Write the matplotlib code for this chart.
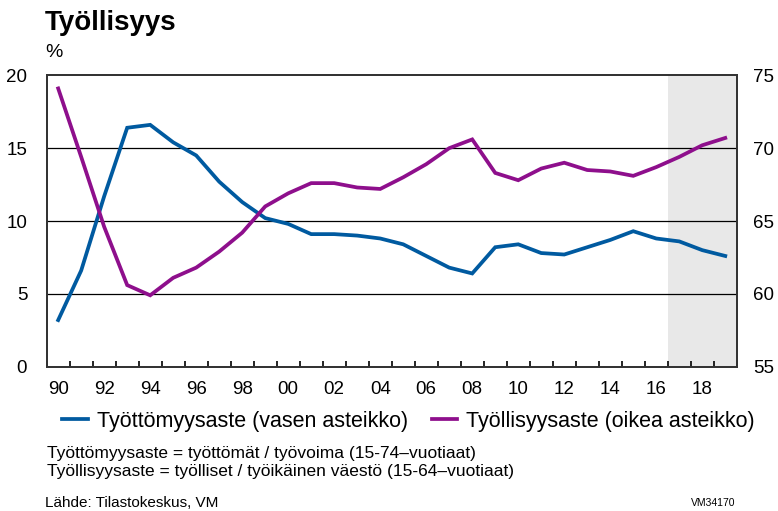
import matplotlib
matplotlib.use("Agg")
import matplotlib.pyplot as plt
from matplotlib.lines import Line2D

# data
years = list(range(1990, 2020))
unemployment = [3.2, 6.6, 11.7, 16.4, 16.6, 15.4, 14.5, 12.7, 11.3, 10.2,
                9.8, 9.1, 9.1, 9.0, 8.8, 8.4, 7.6, 6.8, 6.4, 8.2,
                8.4, 7.8, 7.7, 8.2, 8.7, 9.3, 8.8, 8.6, 8.0, 7.6]
employment = [74.1, 69.4, 64.6, 60.6, 59.9, 61.1, 61.8, 62.9, 64.2, 66.0,
              66.9, 67.6, 67.6, 67.3, 67.2, 68.0, 68.9, 70.0, 70.6, 68.3,
              67.8, 68.6, 69.0, 68.5, 68.4, 68.1, 68.7, 69.4, 70.2, 70.7]
tick_years = list(range(1990, 2020, 2))
tick_labels = ["%02d" % (y % 100) for y in tick_years]
forecast_start = 2017

blue = "#005AA0"
purple = "#8E0F8C"

plt.rcParams["font.family"] = ["Liberation Sans", "DejaVu Sans"]

fig = plt.figure(figsize=(7.78, 5.11), dpi=100)
ax = fig.add_axes([0.060, 0.2824, 0.887, 0.5702])
ax2 = ax.twinx()

# forecast shading
ax.axvspan(forecast_start - 0.5, years[-1] + 0.5, color="#E8E8E8", lw=0, zorder=0)

for v in [5, 10, 15]:
    ax.axhline(v, color="black", lw=0.9, zorder=1)

ax.plot(years, unemployment, color=blue, lw=2.7, zorder=3, solid_joinstyle="miter")
ax2.plot(years, employment, color=purple, lw=2.7, zorder=3, solid_joinstyle="miter")

ax.set_xlim(years[0] - 0.5, years[-1] + 0.5)
ax.set_ylim(0, 20)
ax2.set_ylim(55, 75)
ax.set_yticks([0, 5, 10, 15, 20])
ax2.set_yticks([55, 60, 65, 70, 75])

ax.set_xticks(tick_years)
ax.set_xticklabels(tick_labels)
ax.set_xticks([y - 0.5 for y in years] + [years[-1] + 0.5], minor=True)
ax.tick_params(axis="x", which="major", length=0, labelsize=13.5, pad=10)
ax.tick_params(axis="x", which="minor", direction="in", length=4, width=1.2)
ax.tick_params(axis="y", length=0, labelsize=13.5, pad=14)
ax2.tick_params(axis="y", length=0, labelsize=13.5, pad=12)

for a in (ax, ax2):
    for s in a.spines.values():
        s.set_color("#333333")
        s.set_linewidth(1.3)

fig.text(0.058, 0.955, "Työllisyys", fontsize=20, fontweight="bold", va="center")
fig.text(0.058, 0.897, "%", fontsize=14, va="center")

handles = [Line2D([], [], color=blue, lw=2.7), Line2D([], [], color=purple, lw=2.7)]
fig.legend(handles, ["Työttömyysaste (vasen asteikko)", "Työllisyysaste (oikea asteikko)"],
           loc="center", bbox_to_anchor=(0.525, 0.176), ncol=2, frameon=False,
           fontsize=15.5, handlelength=1.2, handletextpad=0.4, columnspacing=1.1)

fig.text(0.061, 0.113, "Työttömyysaste = työttömät / työvoima (15-74–vuotiaat)", fontsize=12.5, va="center")
fig.text(0.061, 0.078, "Työllisyysaste = työlliset / työikäinen väestö (15-64–vuotiaat)", fontsize=12.5, va="center")
fig.text(0.058, 0.016, "Lähde: Tilastokeskus, VM", fontsize=11, va="center")
fig.text(0.945, 0.016, "VM34170", fontsize=7.5, va="center", ha="right")

fig.savefig("out.png", dpi=100)
